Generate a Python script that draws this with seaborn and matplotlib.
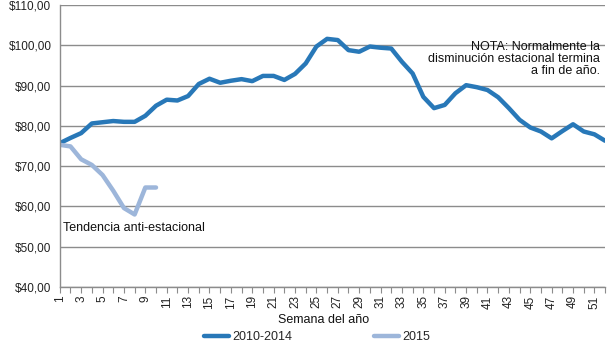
import matplotlib
matplotlib.use("Agg")
import matplotlib.pyplot as plt
import seaborn as sns
import pandas as pd
import numpy as np

weeks = list(range(1, 53))
serie_2010_2014 = [75.7, 77.0, 78.2, 80.6, 80.9, 81.2, 81.0, 81.0, 82.5, 85.0,
                   86.5, 86.3, 87.4, 90.4, 91.7, 90.7, 91.2, 91.6, 91.1, 92.4,
                   92.4, 91.4, 92.9, 95.5, 99.7, 101.6, 101.3, 98.8, 98.4, 99.7,
                   99.4, 99.2, 95.9, 93.0, 87.2, 84.4, 85.2, 88.1, 90.1, 89.6,
                   88.9, 87.1, 84.4, 81.5, 79.6, 78.6, 76.9, 78.7, 80.4, 78.6,
                   77.9, 76.3]
weeks_2015 = list(range(1, 11))
serie_2015 = [75.3, 74.9, 71.7, 70.3, 67.8, 63.9, 59.6, 58.0, 64.7, 64.7]
series_names = ["2010-2014", "2015"]
colors = ["#2878B8", "#9DB6DA"]
y_ticks = [40, 50, 60, 70, 80, 90, 100, 110]

df = pd.DataFrame({
    "Semana": weeks + weeks_2015,
    "Precio": serie_2010_2014 + serie_2015,
    "Serie": [series_names[0]] * len(weeks) + [series_names[1]] * len(weeks_2015),
})

sns.set_style("white")
plt.rcParams["font.family"] = ["Liberation Sans", "DejaVu Sans"]

fig = plt.figure(figsize=(6.1, 3.46), dpi=100)
ax = fig.add_axes([0.098, 0.1705, 0.894, 0.815])

sns.lineplot(data=df, x="Semana", y="Precio", hue="Serie",
             palette=dict(zip(series_names, colors)), linewidth=3.2,
             ax=ax, legend=False, sort=False)

ax.set_xlim(1, 52)
ax.set_ylim(40, 110)
ax.set_yticks(y_ticks)
ax.set_yticklabels([f"${v},00" for v in y_ticks], fontsize=8.5, color="#222222")
ax.yaxis.grid(True, color="#8c8c8c", linewidth=1)
ax.set_axisbelow(True)
ax.tick_params(axis="y", length=0, pad=6)

ax.set_xticks(weeks)
ax.set_xticklabels([str(w) if w % 2 == 1 else "" for w in weeks],
                   rotation=90, fontsize=8.5, color="#222222")
ax.tick_params(axis="x", length=4, width=0.8, color="#8c8c8c", direction="out", pad=2)
ax.xaxis.set_ticks_position("bottom")

for s in ["top", "right"]:
    ax.spines[s].set_visible(False)
for s in ["left", "bottom"]:
    ax.spines[s].set_color("#8c8c8c")
    ax.spines[s].set_linewidth(1)

ax.set_xlabel("Semana del año", fontsize=9, color="#111111", labelpad=2)
ax.xaxis.set_label_coords(0.483, -0.095)
ax.set_ylabel("")

ax.text(0.991, 0.872, "NOTA: Normalmente la\ndisminución estacional termina\na fin de año.",
        transform=ax.transAxes, ha="right", va="top", fontsize=9,
        linespacing=1.0, color="#111111")
ax.text(0.006, 0.21, "Tendencia anti-estacional", transform=ax.transAxes,
        ha="left", va="center", fontsize=9, color="#111111")

from matplotlib.lines import Line2D
handles = [Line2D([0], [0], color=c, linewidth=3.2) for c in colors]
fig.legend(handles, series_names, loc="center", bbox_to_anchor=(0.52, 0.025),
           ncol=2, frameon=False, fontsize=9, handlelength=2.0,
           columnspacing=6.5, handletextpad=0.3)

fig.savefig("out.png", dpi=100)
